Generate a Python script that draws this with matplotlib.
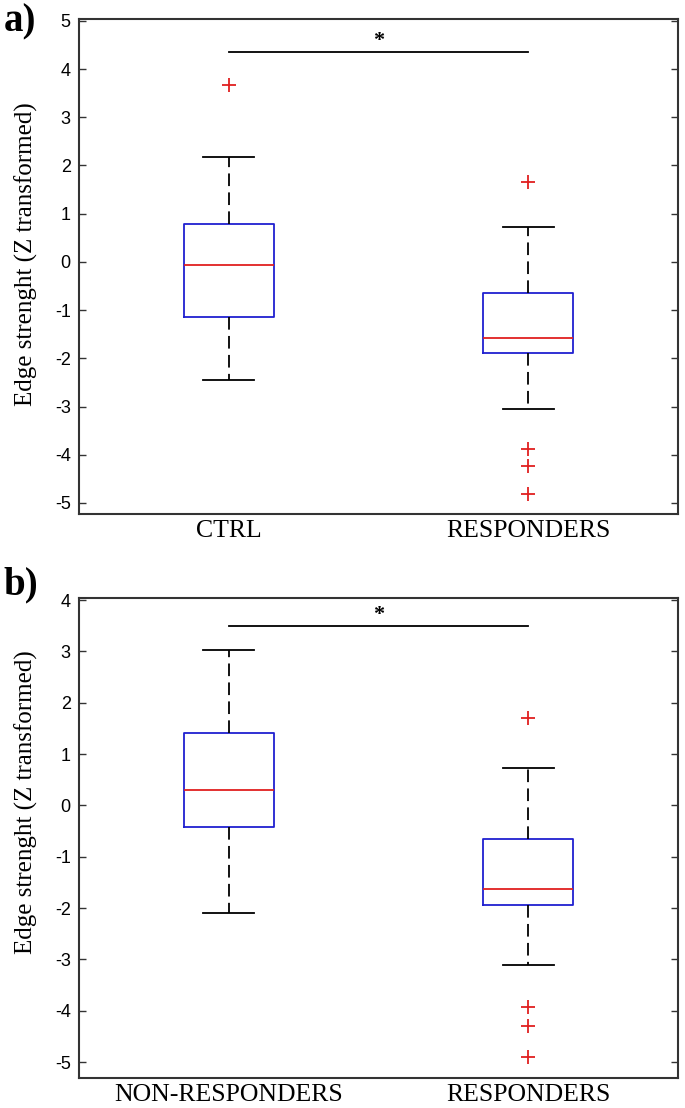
import numpy as np
import matplotlib
matplotlib.use('Agg')
import matplotlib.pyplot as plt

# Values (Z-transformed edge strength)
labels_a = ['CTRL', 'RESPONDERS']
labels_b = ['NON-RESPONDERS', 'RESPONDERS']

# [whislo, q1, median, q3, whishi]
ctrl = [-2.44, -1.15, -0.06, 0.78, 2.17]
ctrl_out = [3.67]
resp_a = [-3.05, -1.90, -1.58, -0.64, 0.72]
resp_a_out = [1.65, -3.88, -4.23, -4.82]

nonresp = [-2.09, -0.43, 0.29, 1.41, 3.02]
nonresp_out = []
resp_b = [-3.10, -1.94, -1.62, -0.66, 0.72]
resp_b_out = [1.70, -3.92, -4.29, -4.90]

sig_a = 4.35
sig_b = 3.50

SERIF = 'Liberation Serif'
SANS = 'Liberation Sans'


def mkstats(q, out, label):
    return dict(whislo=q[0], q1=q[1], med=q[2], q3=q[3], whishi=q[4],
                fliers=np.array(out), label=label)


def draw(ax, stats, sig, ylim, yticks, ylabel_y):
    ax.bxp(stats, positions=[1, 2], widths=0.3, showfliers=True,
           boxprops=dict(color='#2020d0', linewidth=1.3),
           medianprops=dict(color='#e02020', linewidth=1.3),
           whiskerprops=dict(color='black', linewidth=1.3, linestyle=(0, (7, 3.5))),
           capprops=dict(color='black', linewidth=1.3),
           capwidths=0.17,
           flierprops=dict(marker='+', markeredgecolor='#e02020', markersize=10,
                           markeredgewidth=1.3, linestyle='none'))

    # significance bar
    ax.plot([1, 2], [sig, sig], color='black', linewidth=1.3)
    ax.text(1.5, sig + 0.02, '*', ha='center', va='bottom', fontsize=16,
            fontweight='bold', family=SERIF)

    ax.set_xlim(0.5, 2.5)
    ax.set_ylim(*ylim)
    ax.set_yticks(yticks)
    ax.set_yticklabels([str(t) for t in yticks], family=SANS, fontsize=13)
    ax.tick_params(axis='y', direction='in', length=5, right=True, width=1,
                   pad=6, color='#333333')
    ax.tick_params(axis='x', length=0, pad=4)
    for lab in ax.get_xticklabels():
        lab.set_family(SERIF)
        lab.set_fontsize(18.5)
    for s in ax.spines.values():
        s.set_linewidth(1.5)
        s.set_color('#333333')
    ax.set_ylabel('Edge strenght (Z transformed)', family=SERIF, fontsize=18)
    ax.yaxis.set_label_coords(-0.068, ylabel_y)


fig = plt.figure(figsize=(6.85, 11.08), dpi=100)
ax1 = fig.add_axes([0.1153, 0.5361, 0.8745, 0.4468])
ax2 = fig.add_axes([0.1153, 0.0271, 0.8745, 0.4332])

draw(ax1, [mkstats(ctrl, ctrl_out, labels_a[0]),
           mkstats(resp_a, resp_a_out, labels_a[1])],
     sig_a, (-5.23, 5.04), list(range(-5, 6)), 0.525)
draw(ax2, [mkstats(nonresp, nonresp_out, labels_b[0]),
           mkstats(resp_b, resp_b_out, labels_b[1])],
     sig_b, (-5.31, 4.04), list(range(-5, 5)), 0.575)

fig.text(0.005, 0.997, 'a)', family=SERIF, fontsize=28, fontweight='bold',
         va='top', ha='left')
fig.text(0.005, 0.489, 'b)', family=SERIF, fontsize=28, fontweight='bold',
         va='top', ha='left')

fig.savefig('out.png', dpi=100)
